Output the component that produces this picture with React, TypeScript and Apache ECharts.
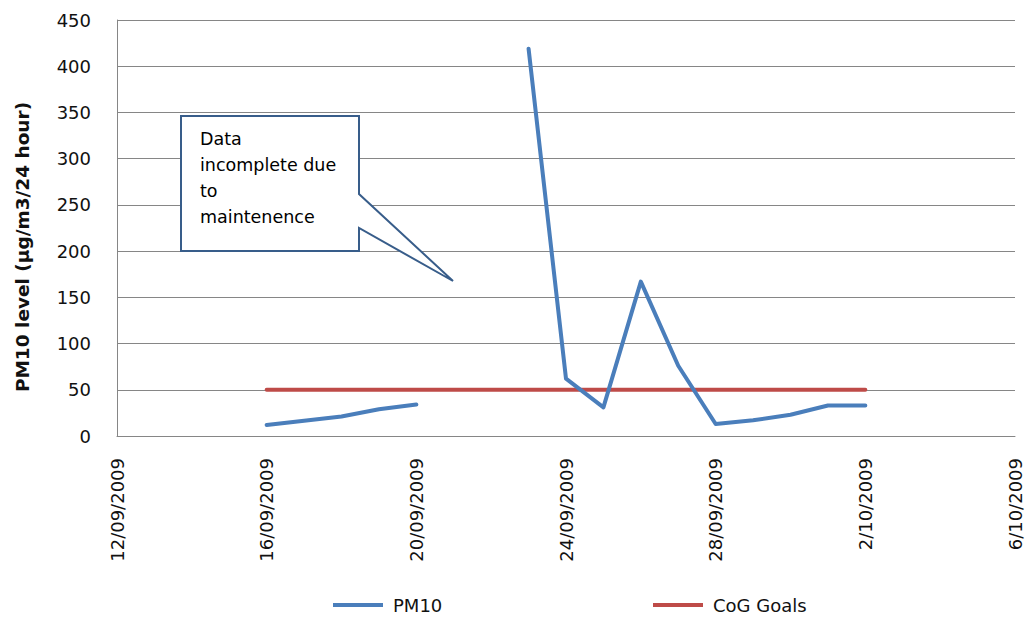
import React, { useEffect, useRef } from "react";
import * as echarts from "echarts";

// Daily PM10 readings (µg/m3 over 24 hours); null = no reading (monitor maintenance)
const dates = [
  "16/09/2009", "17/09/2009", "18/09/2009", "19/09/2009", "20/09/2009",
  "21/09/2009", "22/09/2009", "23/09/2009", "24/09/2009", "25/09/2009",
  "26/09/2009", "27/09/2009", "28/09/2009", "29/09/2009", "30/09/2009",
  "1/10/2009", "2/10/2009",
];
const pm10: (number | null)[] = [
  12, 16.5, 21, 29, 34,
  null, null, 419, 62, 31,
  167, 76, 13, 17, 23,
  33, 33,
];
const cogGoal = [
  50, 50, 50, 50, 50,
  50, 50, 50, 50, 50,
  50, 50, 50, 50, 50,
  50, 50,
];

const axisStart = "12/09/2009";
const axisEnd = "6/10/2009";
const tickStepDays = 4;
const yTicks = { min: 0, max: 450, step: 50 };

const yTitle = "PM10 level (µg/m3/24 hour)";
const calloutLines = ["Data", "incomplete due", "to", "maintenence"];

const DAY = 86400000;
const parseDate = (s: string) => {
  const [d, m, y] = s.split("/").map(Number);
  return Date.UTC(y, m - 1, d);
};
const dayIndex = (s: string) => Math.round((parseDate(s) - parseDate(axisStart)) / DAY);
// dd/mm/yyyy, but the day is not padded once the month has two digits (e.g. 2/10/2009)
const dayLabel = (n: number) => {
  const dt = new Date(parseDate(axisStart) + n * DAY);
  const day = dt.getUTCDate();
  const month = dt.getUTCMonth() + 1;
  const dd = month >= 10 ? String(day) : String(day).padStart(2, "0");
  const mm = String(month).padStart(2, "0");
  return `${dd}/${mm}/${dt.getUTCFullYear()}`;
};

export default function App() {
  const ref = useRef<HTMLDivElement>(null);

  useEffect(() => {
    if (!ref.current) return;
    const chart = echarts.init(ref.current, undefined, { renderer: "svg" });

    const pmData = dates.map((d, i) => [dayIndex(d), pm10[i] === null ? "-" : pm10[i]]);
    const goalData = dates.map((d, i) => [dayIndex(d), cogGoal[i]]);

    const font = "DejaVu Sans";
    const grey = "#868686";
    const ink = "#111";

    const legendText = { fontFamily: font, fontSize: 18, color: ink, padding: [0, 0, 0, 5] };

    chart.setOption({
      animation: false,
      backgroundColor: "#ffffff",
      textStyle: { fontFamily: font },
      grid: { left: 117, right: 11, top: 20, bottom: 183, containLabel: false },
      legend: [
        {
          data: ["PM10"],
          left: 333,
          top: 596,
          icon: "rect",
          itemWidth: 50,
          itemHeight: 4,
          itemGap: 0,
          padding: 0,
          textStyle: legendText,
        },
        {
          data: ["CoG Goals"],
          left: 653,
          top: 596,
          icon: "rect",
          itemWidth: 50,
          itemHeight: 4,
          itemGap: 0,
          padding: 0,
          textStyle: legendText,
        },
      ],
      xAxis: {
        type: "value",
        min: 0,
        max: dayIndex(axisEnd),
        interval: tickStepDays,
        axisLine: { show: true, lineStyle: { color: grey, width: 1 } },
        axisTick: { show: false },
        splitLine: { show: false },
        axisLabel: {
          rotate: 90,
          margin: 22,
          fontFamily: font,
          fontSize: 18,
          color: ink,
          formatter: (v: number) => dayLabel(v),
        },
      },
      yAxis: {
        type: "value",
        min: yTicks.min,
        max: yTicks.max,
        interval: yTicks.step,
        axisLine: { show: true, lineStyle: { color: grey, width: 1 } },
        axisTick: { show: false },
        splitLine: { show: true, lineStyle: { color: grey, width: 1 } },
        axisLabel: { margin: 26, fontFamily: font, fontSize: 18, color: ink },
      },
      series: [
        {
          name: "PM10",
          type: "line",
          data: pmData,
          symbol: "none",
          connectNulls: false,
          itemStyle: { color: "#4a7ebb" },
          lineStyle: { color: "#4a7ebb", width: 4, cap: "round", join: "round" },
          z: 3,
        },
        {
          name: "CoG Goals",
          type: "line",
          data: goalData,
          symbol: "none",
          itemStyle: { color: "#be4b48" },
          lineStyle: { color: "#be4b48", width: 4, cap: "round" },
          z: 2,
        },
      ],
      graphic: [
        // vertical axis title
        {
          type: "text",
          x: 22,
          y: 247,
          rotation: Math.PI / 2,
          style: {
            text: yTitle,
            fontFamily: font,
            fontSize: 18.5,
            fontWeight: "bold",
            fill: ink,
            align: "center",
            verticalAlign: "middle",
          },
        },
        // callout box with its pointer
        {
          type: "polygon",
          z: 100,
          shape: {
            points: [
              [181, 116], [359, 116], [359, 194], [453, 281],
              [359, 228], [359, 251], [181, 251],
            ],
          },
          style: { fill: "#ffffff", stroke: "#385d8a", lineWidth: 2 },
        },
        {
          type: "text",
          z: 101,
          left: 200,
          top: 126,
          style: {
            text: calloutLines.join("\n"),
            fontFamily: font,
            fontSize: 17.5,
            lineHeight: 26,
            fill: "#000",
          },
        },
      ],
    });

    return () => chart.dispose();
  }, []);

  return (
    <div
      ref={ref}
      style={{ position: "absolute", left: 0, top: 0, width: 1026, height: 619, background: "#fff" }}
    />
  );
}
